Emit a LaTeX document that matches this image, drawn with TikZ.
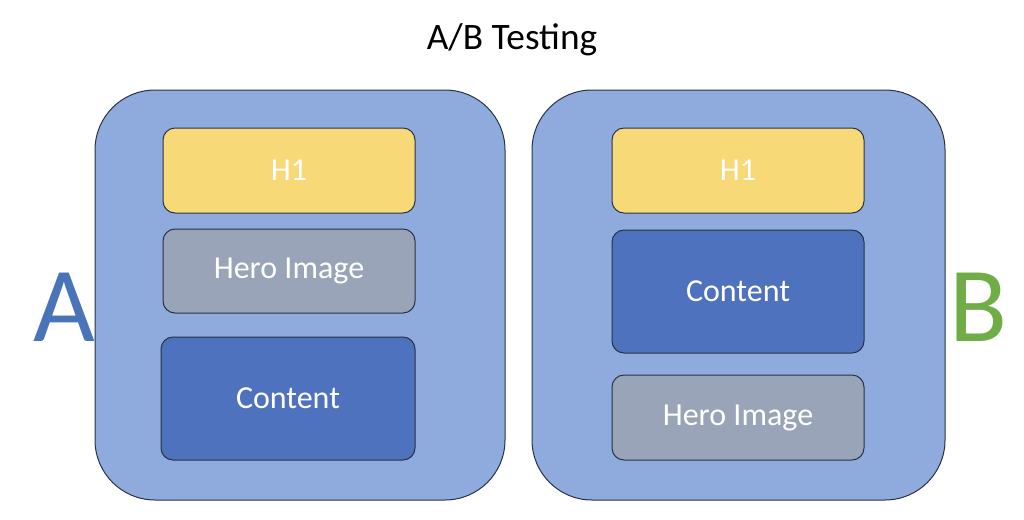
\documentclass[tikz,border=0pt]{standalone}
\usepackage{fontspec}
\setmainfont{Carlito}
\usepackage{tikz}
\tikzset{every picture/.style={line width=0.75pt}}
\definecolor{panelblue}{RGB}{143,170,220}
\definecolor{edgedark}{RGB}{40,50,70}
\definecolor{hyellow}{RGB}{248,217,120}
\definecolor{herogray}{RGB}{154,164,185}
\definecolor{contblue}{RGB}{79,114,190}
\definecolor{letterA}{RGB}{74,116,184}
\definecolor{letterB}{RGB}{112,173,71}
\tikzset{
  panel/.style={draw=edgedark, fill=panelblue, rounded corners=45pt},
  block/.style={draw=edgedark, rounded corners=9pt, text=white, font=\fontsize{24}{28}\selectfont}
}
\begin{document}
\begin{tikzpicture}[x=0.75pt,y=0.75pt,yscale=-1,xscale=1]
\useasboundingbox (0,0) rectangle (1024,519);

%Shape: Panels
\draw [panel] (95,90) rectangle (505,500) ;
\draw [panel] (532,90) rectangle (945,500) ;

%Shape: Blocks of A
\draw [block, fill=hyellow] (163,128) rectangle (415,213) node [midway] (h1A) {H1} ;
\draw [block, fill=herogray] (163,229) rectangle (415,313) node [midway] (heroA) {Hero Image} ;
\draw [block, fill=contblue] (161,337) rectangle (415,460) node [midway] (contA) {Content} ;

%Shape: Blocks of B
\draw [block, fill=hyellow] (612,128) rectangle (864,213) node [midway] (h1B) {H1} ;
\draw [block, fill=contblue] (612,230) rectangle (864,353) node [midway] (contB) {Content} ;
\draw [block, fill=herogray] (612,375) rectangle (864,460) node [midway] (heroB) {Hero Image} ;

% Text Node
\draw (512,40) node [font=\fontsize{28}{32}\selectfont] (title) {A/B Testing};
% Text Node
\draw (64,307) node [text=letterA, font=\fontsize{80}{90}\selectfont] (labA) {A};
% Text Node
\draw (978,307) node [text=letterB, font=\fontsize{80}{90}\selectfont] (labB) {B};
\end{tikzpicture}
\end{document}
